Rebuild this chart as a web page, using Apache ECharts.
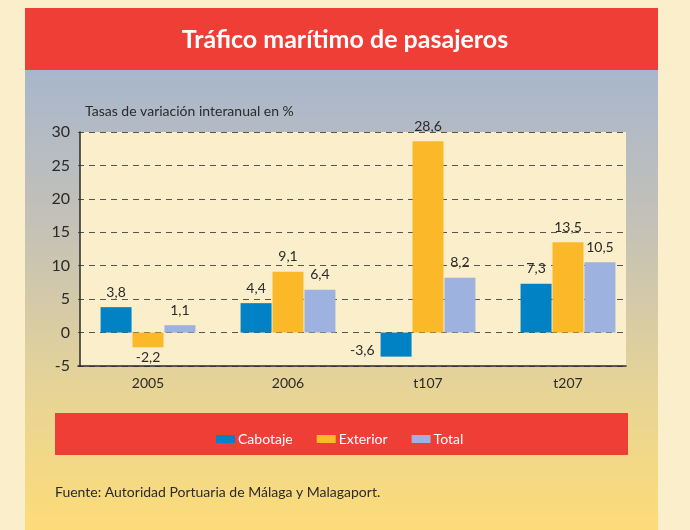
<!DOCTYPE html>
<html>
<head>
<meta charset="utf-8">
<script src="https://cdn.jsdelivr.net/npm/echarts@6/dist/echarts.min.js"></script>
<style>
  html, body { margin: 0; padding: 0; background: #fbeecb; }
  #main { width: 690px; height: 530px; }
</style>
</head>
<body>
<div id="main"></div>
<script>
// datos
var categories = ['2005', '2006', 't107', 't207'];
var cabotaje = [3.8, 4.4, -3.6, 7.3];
var exterior = [-2.2, 9.1, 28.6, 13.5];
var total = [1.1, 6.4, 8.2, 10.5];

var FONT = 'Lato, "Open Sans", sans-serif';

// gradiente del panel (coordenadas globales, para poder tapar el borde derecho)
function panelGradient() {
  return new echarts.graphic.LinearGradient(0, 70, 0, 530, [
    { offset: 0, color: '#a8b6cd' },
    { offset: 0.35, color: '#c5c2b6' },
    { offset: 0.7, color: '#e7d496' },
    { offset: 1, color: '#fddc78' }
  ], true);
}

// etiqueta encima / debajo segun signo
function toData(arr) {
  return arr.map(function (v) {
    var lbl = { position: 'top', distance: 8 };
    if (v < 0) { lbl = { position: 'bottom', distance: 3 }; }
    if (v < -3) { lbl = { position: 'left', distance: 6, offset: [0, 6] }; }
    return { value: v, label: lbl };
  });
}

function serie(name, arr, color) {
  return {
    name: name,
    type: 'bar',
    barWidth: 31,
    barGap: '3%',
    data: toData(arr),
    itemStyle: { color: color },
    label: {
      show: true,
      color: '#2a2a2a',
      fontSize: 14,
      fontFamily: FONT,
      formatter: function (p) { return String(p.value).replace('.', ','); }
    }
  };
}

var myChart = echarts.init(document.getElementById('main'));
myChart.setOption({
  backgroundColor: '#fbeecb',
  animation: false,
  graphic: [
    {
      type: 'rect', z: -10,
      shape: { x: 25, y: 70, width: 633, height: 460 },
      style: { fill: panelGradient() }
    },
    {
      type: 'rect', z: -9,
      shape: { x: 25, y: 8, width: 633, height: 62 },
      style: { fill: '#ef3e36' }
    },
    {
      type: 'rect', z: -9,
      shape: { x: 80, y: 132, width: 546, height: 234 },
      style: { fill: '#faeecb' }
    },
    {
      // tapa el sobrante de la rejilla a la derecha
      type: 'rect', z: 100,
      shape: { x: 626.5, y: 120, width: 20, height: 250 },
      style: { fill: panelGradient() }
    },
    {
      type: 'rect', z: -9,
      shape: { x: 55, y: 413, width: 573, height: 42 },
      style: { fill: '#ef3e36' }
    },
    {
      type: 'text', left: 85, top: 104,
      style: { text: 'Tasas de variación interanual en %', fill: '#2a2a2a', fontSize: 14, fontFamily: FONT }
    },
    {
      type: 'text', left: 55, top: 485,
      style: { text: 'Fuente: Autoridad Portuaria de Málaga y Malagaport.', fill: '#2a2a2a', fontSize: 14, fontFamily: FONT }
    }
  ],
  title: {
    text: 'Tráfico marítimo de pasajeros',
    left: 'center',
    top: 22,
    textStyle: { color: '#ffffff', fontSize: 25, fontWeight: 'bold', fontFamily: FONT }
  },
  legend: {
    left: 211,
    top: 427,
    icon: 'rect',
    itemWidth: 19,
    itemHeight: 8,
    itemGap: 24,
    textStyle: { color: '#ffffff', fontSize: 14, fontFamily: FONT, padding: [0, 0, 0, -2] }
  },
  grid: {
    left: 78,
    right: 52,
    top: 132,
    bottom: 164
  },
  xAxis: {
    type: 'category',
    data: categories,
    axisLine: { onZero: false, lineStyle: { color: '#2a2a2a', width: 1.5 } },
    axisTick: { show: false },
    axisLabel: { color: '#2a2a2a', fontSize: 14, fontFamily: FONT, margin: 10 }
  },
  yAxis: {
    type: 'value',
    min: -5,
    max: 30,
    interval: 5,
    offset: -2,
    axisLine: { show: true, lineStyle: { color: '#2a2a2a', width: 1.5 } },
    axisTick: { show: false },
    axisLabel: { color: '#2a2a2a', fontSize: 16, fontFamily: FONT, margin: 10 },
    splitLine: { show: true, lineStyle: { color: '#555', type: [6, 5], width: 1.2 } }
  },
  series: [
    serie('Cabotaje', cabotaje, '#0082c4'),
    serie('Exterior', exterior, '#fbb829'),
    serie('Total', total, '#9db2de')
  ]
});
</script>
</body>
</html>
